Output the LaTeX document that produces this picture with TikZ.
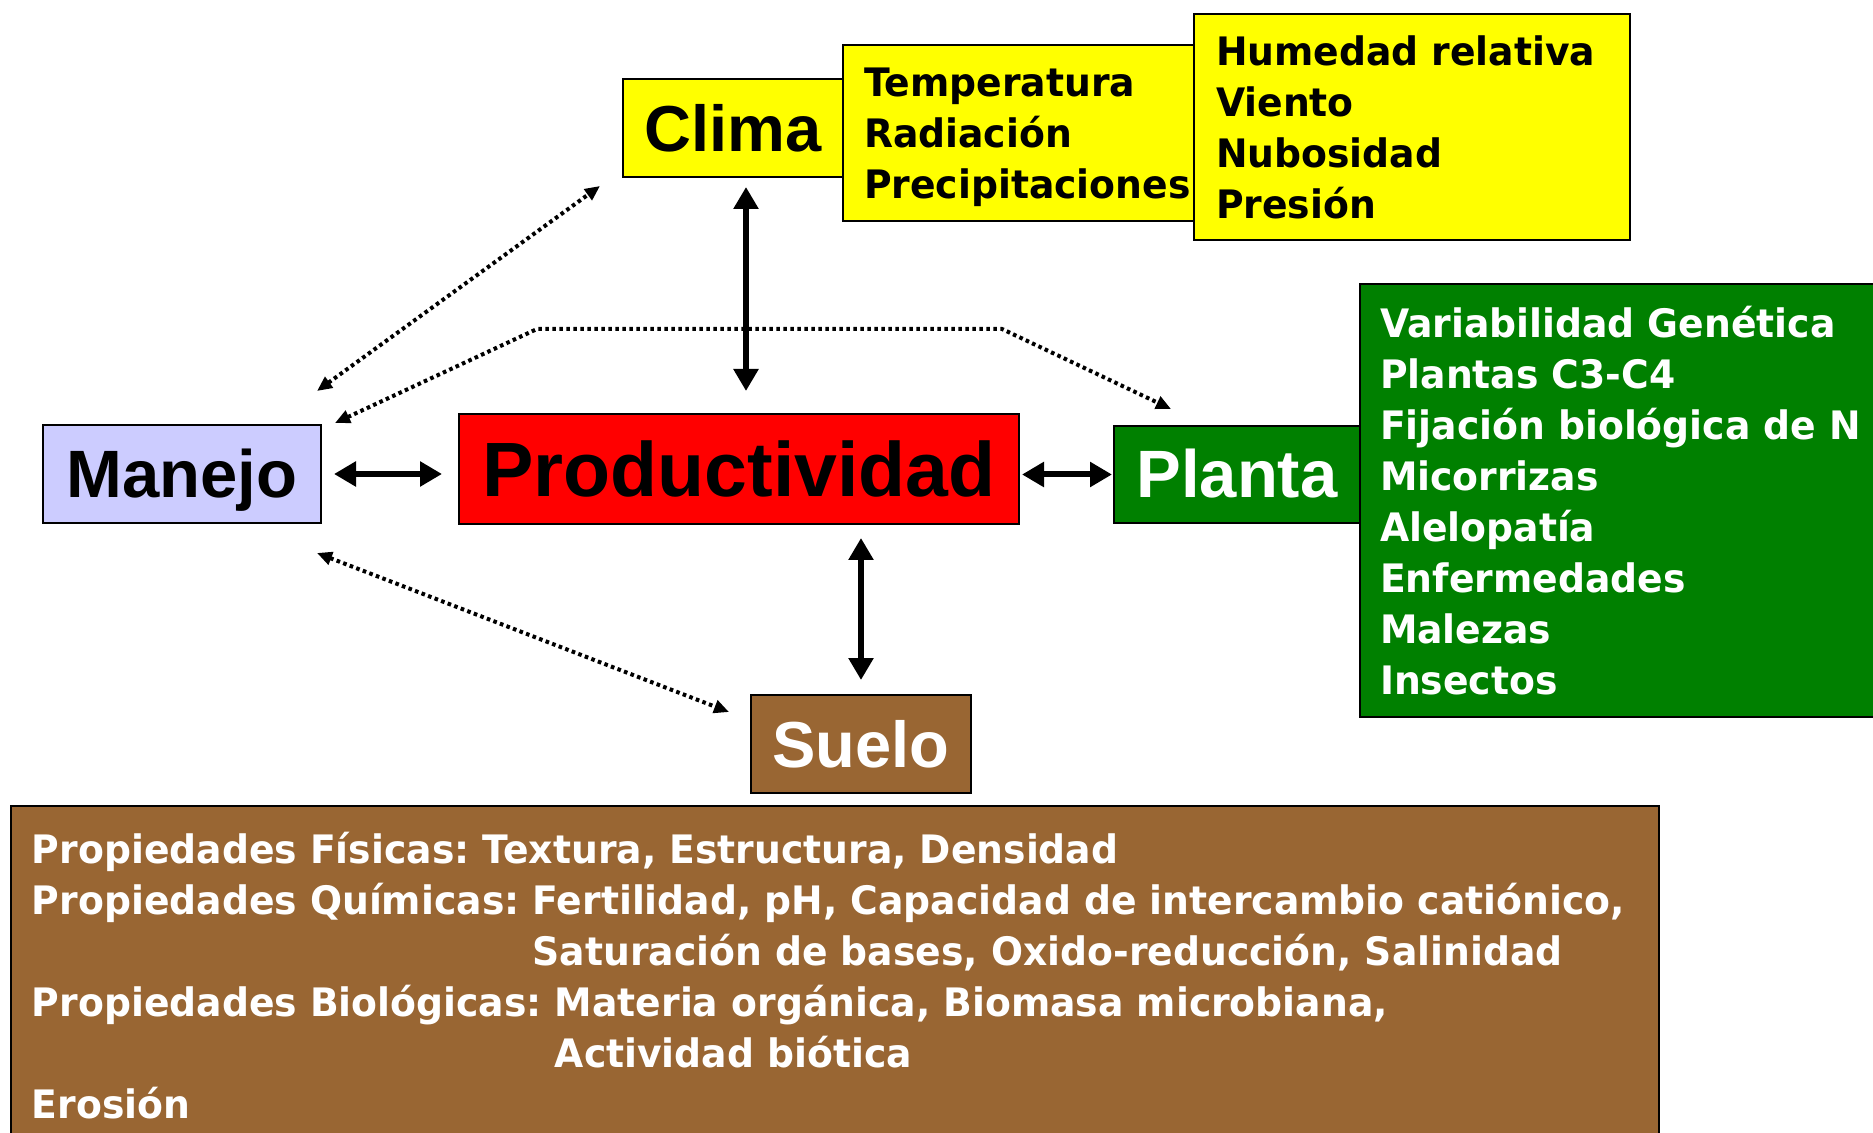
\documentclass[tikz,border=0pt]{standalone}
\usepackage{fontspec}
\usetikzlibrary{arrows.meta}
\newfontfamily\listfont{DejaVu Sans}[FakeStretch=0.962]
\newfontfamily\bigfont{Liberation Sans}
\definecolor{clima}{HTML}{FFFF00}
\definecolor{manejo}{HTML}{CCCCFF}
\definecolor{planta}{HTML}{008000}
\definecolor{suelo}{HTML}{996633}
\frenchspacing

\begin{document}
\begin{tikzpicture}[x=0.5pt,y=-0.5pt,>={Triangle[length=11pt,width=12pt]},
	box/.style={draw, line width=1pt, rectangle, inner sep=0pt},
	label/.style={box, font=\bigfont\bfseries\fontsize{32.5pt}{36pt}\selectfont, minimum height=49pt, text height=23.3pt, text depth=0pt},
	list/.style={box, font=\listfont\bfseries\fontsize{19.6pt}{25.5pt}\selectfont, align=left, inner xsep=10.5pt},
	link/.style={<->, line width=3pt},
	dotlink/.style={{Triangle[length=7.5pt,width=6.5pt]}-{Triangle[length=7.5pt,width=6.5pt]}, line width=2pt, dash pattern=on 1.8pt off 1.7pt}]
				\useasboundingbox (0,0) rectangle (1873,1133);

				\node[label, fill=clima, minimum width=110pt]  (Clima)    at (733,128)     {Clima};
				\node[list, fill=clima, text width=154.5pt, minimum height=88pt] (Temp) at (1018.5,133) {Temperatura\\Radiación\\\raisebox{0pt}[\height][0pt]{Precipitaciones}};
				\node[list, fill=clima, text width=196pt, inner xsep=11pt, minimum height=113pt] (Humedad) at (1412,127) {Humedad relativa\\Viento\\Nubosidad\\Presión};
				\node[label, fill=manejo, minimum width=139pt, font=\bigfont\bfseries\fontsize{33.5pt}{36pt}\selectfont] (Manejo)   at (182,474)     {Manejo};
				\node[label, fill=red, minimum width=280pt, minimum height=55pt, text height=27.6pt, font=\bigfont\bfseries\fontsize{38.5pt}{42pt}\selectfont] (Prod) at (739,469) {Productividad};
				\node[label, fill=planta, text=white, minimum width=123pt, minimum height=48.5pt, font=\bigfont\bfseries\fontsize{33.5pt}{36pt}\selectfont] (Planta) at (1237,474.5) {Planta};
				\node[list, fill=planta, text=white, text width=250pt, inner xsep=10pt, minimum height=216.5pt] (Factores) at (1630,500.5) {Variabilidad Genética\\Plantas C3-C4\\Fijación biológica de N\\Micorrizas\\Alelopatía\\Enfermedades\\Malezas\\Insectos};
				\node[label, fill=suelo, text=white, minimum width=110pt] (Suelo) at (861,744) {Suelo};
				\node[list, fill=suelo, text=white, text width=803pt, minimum height=170.5pt] (Propiedades) at (835,976) {Propiedades Físicas: Textura, Estructura, Densidad\\Propiedades Químicas: Fertilidad, pH, Capacidad de intercambio catiónico,\\\phantom{Propiedades Químicas: }Saturación de bases, Oxido-reducción, Salinidad\\Propiedades Biológicas: Materia orgánica, Biomasa microbiana,\\\phantom{Propiedades Biológicas: }Actividad biótica\\Erosión};

				\coordinate (bendL) at (537,329);
				\coordinate (bendR) at (1002,329);

				\draw[link, shorten <=6pt, shorten >=8pt] (Manejo.east) -- (Manejo.east -| Prod.west);
				\draw[link, shorten <=1pt, shorten >=0.5pt] (Planta.west -| Prod.east) -- (Planta.west);
				\draw[link, shorten <=4.5pt, shorten >=11pt] ([xshift=6.5pt]Clima.south) -- ([xshift=6.5pt]Clima.south |- Prod.north);
				\draw[link, shorten <=6.5pt, shorten >=7pt] (Suelo.north |- Prod.south) -- (Suelo.north);

				\draw[dotlink] ([shift={(-5,-33)}]Manejo.north east) -- ([shift={(-22,8)}]Clima.south west);
				\draw[dotlink] ([shift={(13,-1)}]Manejo.north east) -- (bendL) -- (bendR) -- ([shift={(58,-16)}]Planta.north west);
				\draw[dotlink] ([shift={(-5,29)}]Manejo.south east) -- ([shift={(-21,18)}]Suelo.north west);
\end{tikzpicture}
\end{document}
